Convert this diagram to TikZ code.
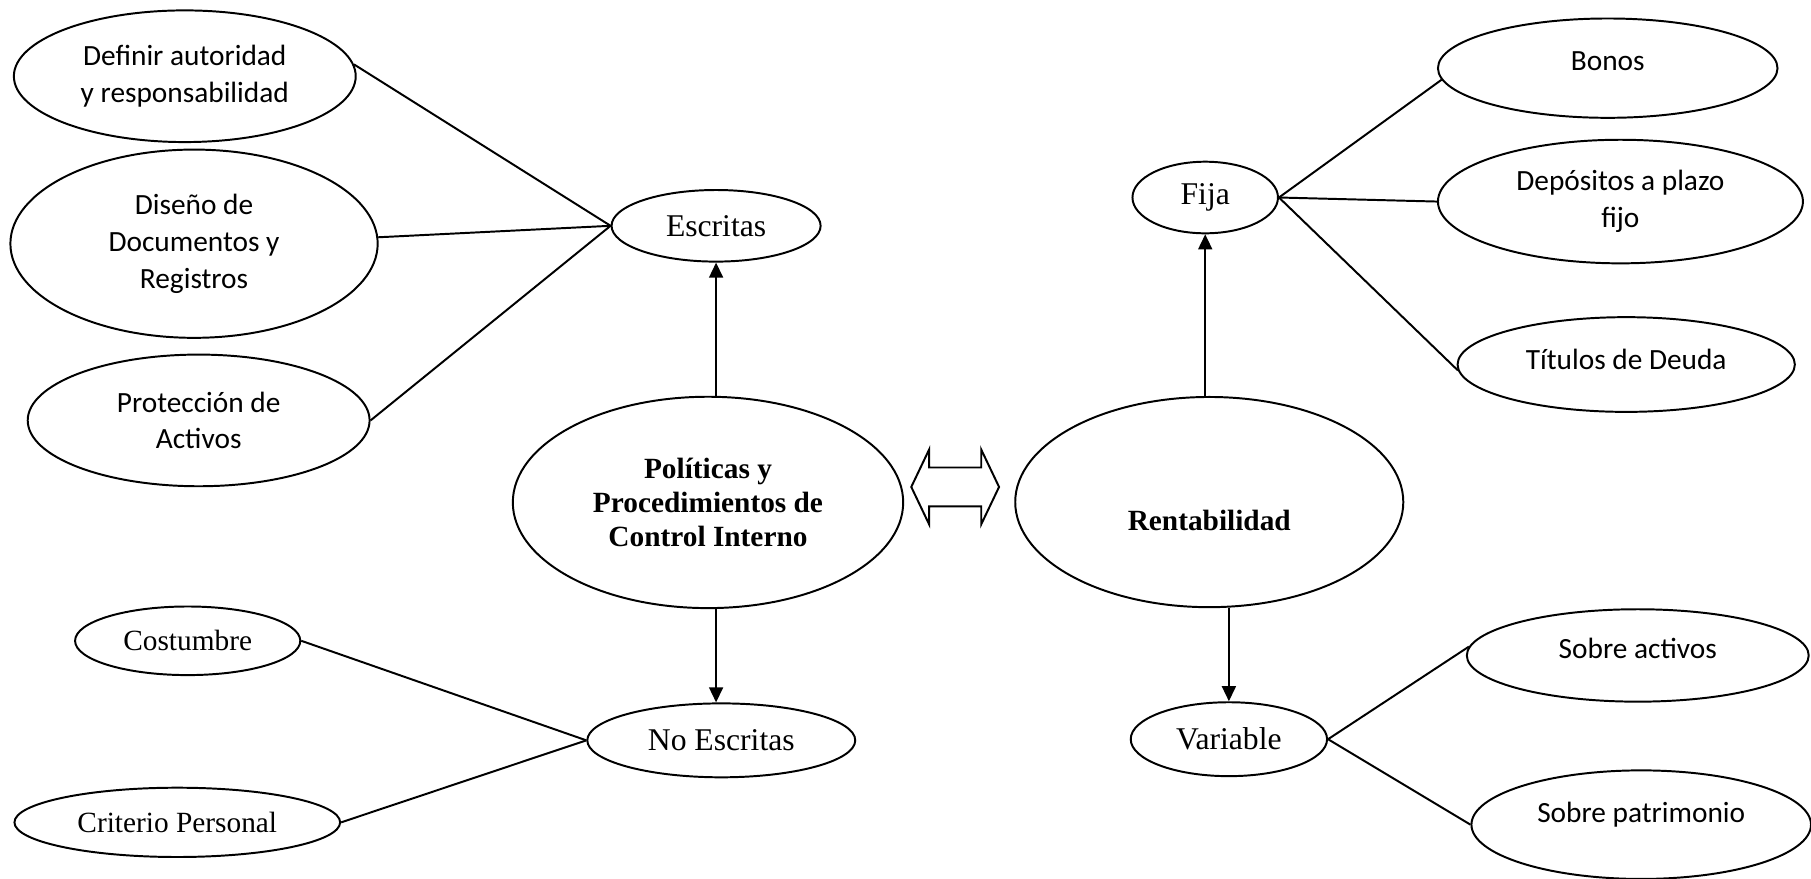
\documentclass[tikz,border=0pt]{standalone}
\usepackage{fontspec}
\setmainfont{Liberation Serif}
\newfontfamily\calib{Carlito}
\usetikzlibrary{shapes.geometric,shapes.arrows,arrows.meta}

\begin{document}
\begin{tikzpicture}[x=0.5pt, y=-0.5pt,
  ell/.style={ellipse, draw, line width=0.85pt, inner sep=0pt, align=center},
  cal/.style={ell, font=\calib\fontsize{12.7}{16}\selectfont},
  calup/.style={cal, text height=8.8pt, text depth=#1},
  tnr/.style={ell, font=\fontsize{13.7}{16}\selectfont},
  tnrs/.style={ell, font=\fontsize{12.7}{15}\selectfont},
  main/.style={ell, font=\bfseries\fontsize{12.7}{14.75}\selectfont},
  link/.style={line width=0.85pt},
  arr/.style={line width=0.85pt, -{Triangle[length=6.5pt, width=6pt]}}]

  \useasboundingbox (0,0) rectangle (1568,761);

  %% control interno
  \node[main, minimum width=169pt, minimum height=91.5pt] (pol) at (613,435) {Políticas y\\Procedimientos de\\Control Interno};
  \node[tnr, minimum width=90.5pt, minimum height=31pt] (esc) at (620,195.5) {Escritas};
  \node[tnr, minimum width=116pt, minimum height=32pt] (noe) at (624.5,641) {No Escritas};

  \node[cal, minimum width=148pt, minimum height=57pt] (def) at (160,66) {Definir autoridad\\y responsabilidad};
  \node[cal, minimum width=159pt, minimum height=81.5pt] (dis) at (168,211) {Diseño de\\Documentos y\\Registros};
  \node[cal, minimum width=148pt, minimum height=57pt] (pro) at (172,364) {Protección de\\Activos};

  \node[tnrs, minimum width=97.5pt, minimum height=29.7pt] (cos) at (162.5,554.8) {Costumbre};
  \node[tnrs, minimum width=141pt, minimum height=30pt] (cri) at (153.5,712) {Criterio Personal};

  %% rentabilidad
  \node[main, minimum width=168pt, minimum height=91pt, text height=24.4pt, text depth=0pt] (ren) at (1047,434.7) {Rentabilidad};
  \node[tnr, minimum width=63pt, minimum height=31pt] (fij) at (1043.5,171) {Fija};
  \node[tnr, minimum width=85pt, minimum height=32pt] (var) at (1064,640) {Variable};

  \node[calup=6.8pt, minimum width=147pt, minimum height=43pt] (bon) at (1392,59) {Bonos};
  \node[cal, minimum width=158pt, minimum height=53.5pt] (dep) at (1403,174.5) {Depósitos a plazo\\fijo};
  \node[calup=4.8pt, minimum width=146pt, minimum height=41pt] (tit) at (1408,315.6) {Títulos de Deuda};

  \node[calup=5.9pt, minimum width=148pt, minimum height=40pt] (sac) at (1418,567.5) {Sobre activos};
  \node[calup=10.4pt, minimum width=147pt, minimum height=47pt] (spa) at (1421,714) {Sobre patrimonio};

  \node[double arrow, draw, line width=0.85pt, inner xsep=0pt, inner ysep=8pt, minimum height=38pt, minimum width=31.5pt,
        double arrow head extend=7.75pt, double arrow tip angle=129] (dbl) at (827,421.6) {};

  %% arrows
  \draw[arr] (pol.north -| esc.south) -- (esc.south);
  \draw[arr] (pol.south -| esc.south) -- (noe.north -| esc.south);
  \draw[arr] (ren.north -| fij.south) -- (fij.south);
  \draw[arr] (ren.south -| var.north) -- (var.north);

  %% lines
  \draw[link] (def.4) -- (esc.west);
  \draw[link] (dis.2) -- (esc.west);
  \draw[link] (pro.east) -- (esc.west);
  \draw[link] (cos.east) -- (noe.west);
  \draw[link] (cri.east) -- (noe.west);
  \draw[link] (fij.east) -- (bon.184);
  \draw[link] (fij.east) -- (dep.west);
  \draw[link] (fij.east) -- (tit.182);
  \draw[link] (var.east) -- (sac.177);
  \draw[link] (var.east) -- (spa.west);
\end{tikzpicture}
\end{document}
